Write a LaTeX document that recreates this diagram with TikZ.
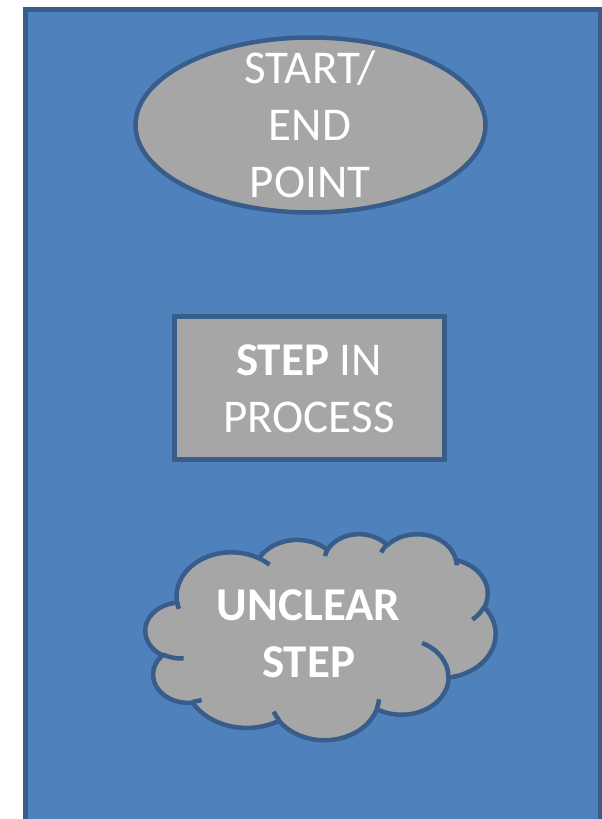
\documentclass[tikz,border=0pt]{standalone}
\usepackage{fontspec}
\setmainfont{Carlito}
\usetikzlibrary{shapes.geometric}
\definecolor{bgblue}{HTML}{4F81BD}
\definecolor{edgeblue}{HTML}{385D8A}
\definecolor{shapegray}{HTML}{A6A6A6}
% OOXML-style arcTo: x radius, y radius, visual start angle, sweep angle
\newcommand\oarc[4]{%
  \pgfextra{%
    \pgfmathsetmacro\cta{atan2((#1)*sin(#3),(#2)*cos(#3))}%
    \pgfmathsetmacro\ctb{atan2((#1)*sin(#3+#4),(#2)*cos(#3+#4))}%
    \pgfmathsetmacro\cdd{\ctb-\cta}%
    \pgfmathsetmacro\cdd{\cdd-360*round((\cdd-(#4))/360)}%
    \global\let\gcta\cta \global\let\gcdd\cdd}%
  arc[start angle=\gcta, delta angle=\gcdd, x radius=#1pt, y radius=#2pt]}
\begin{document}
\begin{tikzpicture}[x=1pt,y=1pt,yscale=-1,
  shapeline/.style={draw=edgeblue, line width=4.5pt, fill=shapegray},
  innerline/.style={draw=edgeblue, line width=4.5pt},
  labeltext/.style={text=white, font=\fontsize{47}{57}\selectfont, align=center, inner sep=0pt, anchor=base}]
\useasboundingbox (0,0) rectangle (602,819);
\node[draw=edgeblue, line width=5pt, fill=bgblue, rectangle, minimum width=575.5pt, minimum height=830pt, inner sep=0pt, anchor=north west] (panel) at (22.5,6.5) {};
\node[ellipse, shapeline, minimum width=350pt, minimum height=175pt, inner sep=0pt] (startend) at (310.5,125) {};
\node[rectangle, shapeline, minimum width=270pt, minimum height=143pt, inner sep=0pt] (step) at (309.5,388) {};
\begin{scope}[shift={(145.5,533.5)}, xscale=0.8102, yscale=0.4769]
\draw[shapeline, line join=round] (39,143.7)
  \oarc{67.53}{91.90}{-190.4875}{123.7805}
  \oarc{53.33}{72.67}{-144.1024}{89.9452}
  \oarc{43.65}{59.45}{-145.8079}{99.7230}
  \oarc{48.57}{65.95}{-130.9861}{117.2417}
  \oarc{53.33}{72.73}{-78.7089}{109.0269}
  \oarc{67.75}{92.20}{-46.2673}{130.2690}
  \oarc{57.85}{78.67}{0.6250}{114.0333}
  \oarc{67.52}{92.15}{22.4516}{115.1726}
  \oarc{77.20}{105.43}{66.2426}{75.7110}
  \oarc{43.60}{59.18}{-274.9421}{146.7356}
  \oarc{43.45}{59.45}{-246.8285}{152.5189}
  -- cycle;
\draw[innerline]
  (46.93,261.77) \oarc{43.45}{59.45}{86.742}{26.4295}
  (69.28,348.99) \oarc{43.60}{59.18}{73.6105}{11.4475}
  (164.78,390.90) \oarc{67.52}{92.15}{137.6242}{14.0811}
  (288.27,347.51) \oarc{67.52}{92.15}{6.4533}{15.9984}
  (341.29,229.54) \oarc{57.85}{78.67}{-70.2924}{70.9174}
  (417.98,153.54) \oarc{53.33}{72.73}{30.3180}{27.7515}
  (383.24,54.26) \oarc{48.57}{65.95}{-13.7443}{14.8589}
  (290.78,39.52) \oarc{48.57}{65.95}{-149.1815}{18.1954}
  (221.41,47.20) \oarc{43.65}{59.45}{-163.4943}{17.6864}
  (140.00,51.92) \oarc{67.53}{91.90}{-66.7070}{12.3194}
  (41.27,157.89) \oarc{67.53}{91.90}{157.6544}{11.8582};
\end{scope}
\node[labeltext] (startlabel) at (310,197) {START/\\END\\POINT};
\node[labeltext] (steplabel) at (309,432) {\textbf{STEP} IN\\PROCESS};
\node[labeltext, font=\fontsize{47}{57}\selectfont\bfseries] (cloudlabel) at (308.5,677) {UNCLEAR\\STEP};
\end{tikzpicture}
\end{document}
